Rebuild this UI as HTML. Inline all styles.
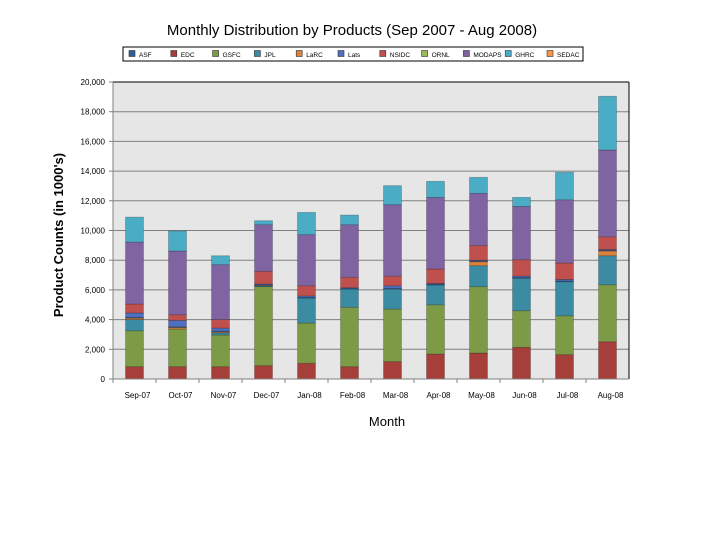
<!DOCTYPE html>
<html><head><meta charset="utf-8"><style>
body{margin:0;background:#fff;font-family:"Liberation Sans",sans-serif;}
svg text{font-family:"Liberation Sans",sans-serif;}
</style></head><body>
<svg id="chart" width="720" height="540" viewBox="0 0 720 540">
<text x="352" y="35" font-size="15" text-anchor="middle">Monthly Distribution by Products (Sep 2007 - Aug 2008)</text>
<g id="legend"></g>
<rect x="113" y="82" width="516" height="297" fill="#e6e6e6"/>
<g id="grid"></g>
<g id="bars"></g>
<g id="axes"></g>
<text x="387" y="426" font-size="13" text-anchor="middle">Month</text>
<text transform="translate(63,235) rotate(-90)" font-size="13" font-weight="bold" text-anchor="middle">Product Counts (in 1000's)</text>
</svg>
<script>
const categories=["Sep-07","Oct-07","Nov-07","Dec-07","Jan-08","Feb-08","Mar-08","Apr-08","May-08","Jun-08","Jul-08","Aug-08"];
const seriesNames=["ASF","EDC","GSFC","JPL","LaRC","Lats","NSIDC","ORNL","MODAPS","GHRC","SEDAC"];
const ASF=[50,50,50,50,50,50,50,50,50,50,50,50];
const EDC=[830,830,830,900,1060,830,1170,1680,1750,2130,1640,2510];
const GSFC=[2420,2540,2130,5320,2710,4000,3540,3320,4470,2470,2620,3840];
const JPL=[750,0,150,50,1680,1230,1350,1330,1410,2180,2290,1950];
const LaRC=[100,100,60,30,0,0,0,0,270,0,0,320];
const Lats=[300,430,210,50,100,40,170,50,50,100,100,50];
const NSIDC=[600,380,570,850,680,700,640,980,980,1100,1110,860];
const ORNL=[0,0,0,0,0,0,0,0,0,0,0,0];
const MODAPS=[4170,4290,3700,3140,3440,3540,4820,4820,3520,3590,4260,5840];
const GHRC=[1680,1350,600,270,1500,650,1280,1080,1080,610,1850,3620];
const SEDAC=[0,0,0,0,0,0,0,0,0,0,0,0];
const yTicks=[0,2000,4000,6000,8000,10000,12000,14000,16000,18000,20000];
const colors={ASF:"#2f5f98",EDC:"#a63f3a",GSFC:"#7d9a46",JPL:"#3b8ba3",LaRC:"#d9823b",Lats:"#4f6fc0",NSIDC:"#c0504d",ORNL:"#9bbb59",MODAPS:"#8064a2",GHRC:"#4bacc6",SEDAC:"#f79646"};
const data={ASF,EDC,GSFC,JPL,LaRC,Lats,NSIDC,ORNL,MODAPS,GHRC,SEDAC};
const stackOrder=["EDC","GSFC","JPL","LaRC","ASF","Lats","NSIDC","ORNL","MODAPS","GHRC","SEDAC"];
const NS="http://www.w3.org/2000/svg";
const X0=113,X1=629,Y0=379,Y1=82,YMAX=20000;
const band=(X1-X0)/categories.length;
const y=v=>Y0-(v/YMAX)*(Y0-Y1);
const xc=i=>X0+band*(i+0.5);
function mk(tag,attrs,parent){const e=document.createElementNS(NS,tag);for(const k in attrs)e.setAttribute(k,attrs[k]);parent.appendChild(e);return e;}
const grid=document.getElementById('grid'),axes=document.getElementById('axes'),bars=document.getElementById('bars'),legend=document.getElementById('legend');
yTicks.forEach(t=>{
  if(t>0){const l=mk('line',{x1:X0,x2:X1,y1:y(t),y2:y(t),stroke:t===YMAX?'#000':'#808080','stroke-width':1},grid);
  
  }
  mk('line',{x1:X0-4,x2:X0,y1:y(t),y2:y(t),stroke:'#808080'},axes);
  const tx=mk('text',{x:X0-8,y:y(t)+3,'font-size':8,'text-anchor':'end'},axes);
  tx.textContent=t.toLocaleString('en-US');
  
  
});
mk('line',{x1:X0,x2:X0,y1:Y1,y2:Y0,stroke:'#808080'},axes);
mk('line',{x1:X1,x2:X1,y1:Y1,y2:Y0,stroke:'#000'},axes);
mk('line',{x1:X0,x2:X1,y1:Y0,y2:Y0,stroke:'#808080'},axes);
categories.forEach((c,i)=>{
  mk('line',{x1:X0+band*i,x2:X0+band*i,y1:Y0,y2:Y0+4,stroke:'#808080'},axes);
  const tx=mk('text',{x:xc(i)+3,y:Y0+19,'font-size':8,'text-anchor':'middle'},axes);
  tx.textContent=c;
  
  
  let acc=0;const bw=18;
  stackOrder.forEach(s=>{
    const v=data[s][i];if(v<=0)return;
    const r=mk('rect',{x:xc(i)-bw/2,y:y(acc+v),width:bw,height:y(acc)-y(acc+v),fill:colors[s],stroke:'rgba(0,0,0,0.25)','stroke-width':0.8},bars);
    
    
    acc+=v;
  });
});
mk('rect',{x:123,y:47,width:460,height:14,fill:'#fff',stroke:'#000','stroke-width':1},legend);
seriesNames.forEach((s,i)=>{
  const lx=129+i*41.8;
  const g=mk('g',{},legend);
  
  
  mk('rect',{x:lx,y:50.5,width:6,height:6,fill:colors[s],stroke:'#333','stroke-width':0.6},g);
  const t=mk('text',{x:lx+10,y:57,'font-size':6.5},g);
  t.textContent=s;
});
</script>
</body></html>
